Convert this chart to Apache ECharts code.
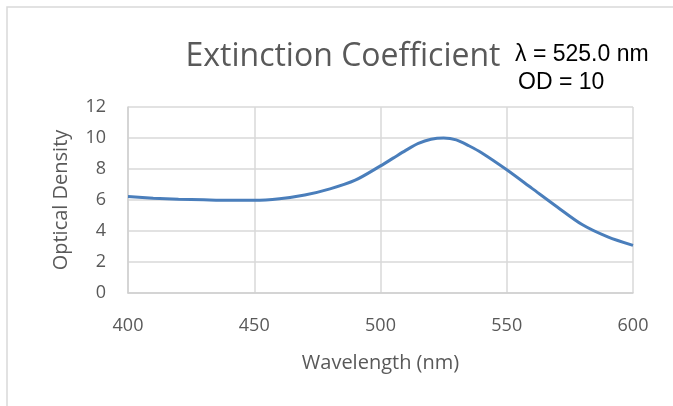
<!DOCTYPE html>
<html>
<head>
<meta charset="utf-8">
<script src="https://cdn.jsdelivr.net/npm/echarts@6/dist/echarts.min.js"></script>
<style>
  html, body { margin: 0; padding: 0; background: #fff; }
  #chart { width: 673px; height: 406px; }
</style>
</head>
<body>
<div id="chart"></div>
<script>
// wavelength (nm) and optical density
var wavelengths = [400, 410, 420, 430, 440, 450, 460, 470, 480, 490, 500, 505, 510, 515, 520, 525, 530, 535, 540, 550, 560, 570, 580, 590, 600];
var density = [6.22, 6.12, 6.05, 6.01, 5.98, 5.98, 6.08, 6.32, 6.72, 7.28, 8.2, 8.7, 9.2, 9.65, 9.92, 10.0, 9.88, 9.5, 9.05, 7.95, 6.75, 5.55, 4.4, 3.62, 3.07];
var peakText = ['λ = 525.0 nm', 'OD = 10'];

var chart = echarts.init(document.getElementById('chart'));
var grey = '#595959';
var font = 'Open Sans';

chart.setOption({
    animation: false,
    title: {
        text: 'Extinction Coefficient',
        left: 338, top: 36, textAlign: 'center',
        textStyle: { fontFamily: font, fontSize: 32, fontWeight: 'normal', color: grey }
    },
    graphic: [
        { type: 'rect', shape: { x: 7, y: 7, width: 700, height: 420 },
          style: { fill: 'none', stroke: '#d9d9d9', lineWidth: 1.5 } },
        { type: 'text', left: 515, top: 43,
          style: { text: peakText[0], font: '23px "Liberation Sans"', fill: '#000' } },
        { type: 'text', left: 518, top: 71,
          style: { text: peakText[1], font: '23px "Liberation Sans"', fill: '#000' } }
    ],
    grid: { left: 128, right: 40, top: 107, bottom: 113 },
    xAxis: {
        type: 'value', min: 400, max: 600, interval: 50,
        name: 'Wavelength (nm)', nameLocation: 'middle', nameGap: 60,
        nameTextStyle: { fontFamily: font, fontSize: 20, color: grey },
        axisLine: { show: true, lineStyle: { color: '#d0d0d0', width: 1.5 } },
        axisTick: { show: false },
        axisLabel: { fontFamily: font, fontSize: 18, color: grey, margin: 24 },
        splitLine: { show: true, lineStyle: { color: '#d9d9d9', width: 1.5 } }
    },
    yAxis: {
        type: 'value', min: 0, max: 12, interval: 2,
        name: 'Optical Density', nameLocation: 'middle', nameGap: 57,
        nameTextStyle: { fontFamily: font, fontSize: 20, color: grey },
        axisLine: { show: true, lineStyle: { color: '#d0d0d0', width: 1.5 } },
        axisTick: { show: false },
        axisLabel: { fontFamily: font, fontSize: 18, color: grey, margin: 22 },
        splitLine: { show: true, lineStyle: { color: '#d9d9d9', width: 1.5 } }
    },
    series: [{
        type: 'line',
        data: wavelengths.map(function (w, i) { return [w, density[i]]; }),
        smooth: 0.3,
        showSymbol: false,
        lineStyle: { color: '#4a7ebb', width: 3 }
    }]
});
</script>
</body>
</html>
